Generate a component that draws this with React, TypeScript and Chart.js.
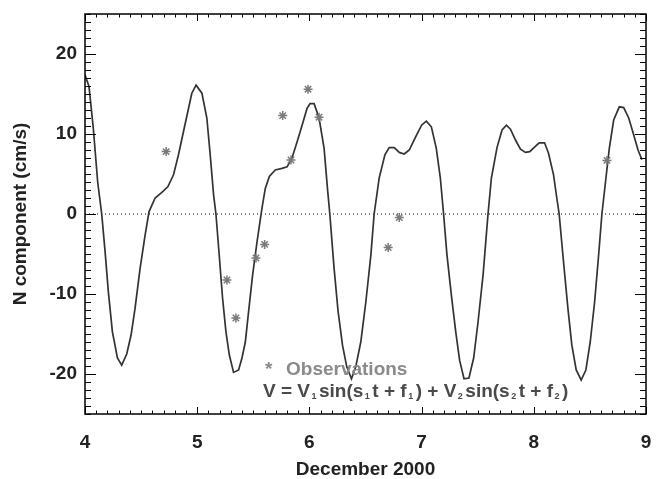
import React, { useEffect, useRef } from 'react';
import { Chart, registerables } from 'chart.js';

Chart.register(...registerables);

// Model curve V = V1 sin(s1 t + f1) + V2 sin(s2 t + f2)
const curveT = [
  4.000, 4.036, 4.074, 4.113, 4.149, 4.179, 4.208, 4.244, 4.289, 4.327, 4.372, 4.411, 4.446, 4.491, 4.536, 4.571,
  4.625, 4.685, 4.738, 4.789, 4.833, 4.887, 4.952, 4.990, 5.042, 5.086, 5.116, 5.146, 5.167, 5.196, 5.226, 5.256,
  5.286, 5.324, 5.369, 5.399, 5.429, 5.458, 5.494, 5.533, 5.577, 5.607, 5.643, 5.696, 5.756, 5.801, 5.845, 5.890,
  5.935, 5.979, 6.006, 6.042, 6.086, 6.131, 6.161, 6.182, 6.220, 6.256, 6.295, 6.333, 6.375, 6.413, 6.458, 6.503,
  6.548, 6.577, 6.622, 6.673, 6.711, 6.756, 6.801, 6.845, 6.890, 6.949, 7.000, 7.042, 7.087, 7.131, 7.167, 7.196,
  7.226, 7.265, 7.304, 7.339, 7.378, 7.422, 7.464, 7.503, 7.548, 7.592, 7.622, 7.672, 7.717, 7.756, 7.792, 7.837,
  7.881, 7.926, 7.964, 8.009, 8.048, 8.096, 8.131, 8.176, 8.205, 8.226, 8.265, 8.304, 8.339, 8.378, 8.422, 8.464,
  8.503, 8.542, 8.578, 8.607, 8.643, 8.673, 8.712, 8.762, 8.801, 8.846, 8.890, 8.929, 8.964,
];
const curveV = [
  17.4, 15.9, 10.7, 4.0, 0.0, -4.7, -9.7, -14.7, -18.0, -18.9, -17.5, -15.1, -11.8, -6.8, -2.6, 0.3,
  2.0, 2.7, 3.4, 4.9, 7.4, 10.9, 15.1, 16.1, 15.1, 12.0, 7.4, 2.4, 0.0, -5.1, -10.5, -14.7,
  -17.6, -19.8, -19.5, -18.0, -16.0, -12.2, -7.6, -3.5, 0.7, 3.2, 4.7, 5.5, 5.7, 5.9, 7.0, 9.0,
  11.1, 13.2, 13.8, 13.8, 12.0, 8.2, 3.2, 0.0, -6.8, -12.2, -16.4, -19.1, -20.6, -19.1, -16.0, -11.0,
  -5.1, 0.0, 4.5, 7.4, 8.3, 8.3, 7.7, 7.5, 8.0, 9.7, 11.1, 11.6, 10.9, 8.2, 4.5, 0.0,
  -5.1, -10.1, -14.7, -18.3, -20.6, -20.5, -18.0, -13.5, -7.6, 0.0, 4.5, 8.3, 10.5, 11.1, 10.6, 9.25,
  8.1, 7.7, 7.8, 8.4, 8.9, 8.9, 7.6, 4.9, 2.0, 0.0, -6.0, -11.8, -16.4, -19.5, -20.75, -19.5,
  -16.0, -11.0, -5.1, 0.0, 4.5, 8.2, 11.75, 13.4, 13.3, 12.0, 9.9, 8.0, 6.8,
];

// Observations
const obsT = [4.723, 5.265, 5.345, 5.524, 5.601, 5.762, 5.836, 5.988, 6.086, 6.702, 6.801, 8.652];
const obsV = [7.8, -8.25, -13.0, -5.5, -3.8, 12.3, 6.75, 15.6, 12.1, -4.2, -0.45, 6.7];

// Zero reference line
const zeroT = [4, 9];
const zeroV = [0, 0];

// Axes
const xMin = 4;
const xMax = 9;
const yMin = -25;
const yMax = 25;
const xTicks = [4, 5, 6, 7, 8, 9];
const yTicks = [-20, -10, 0, 10, 20];
const xMinorStep = 0.1;
const yMinorStep = 1;

const xTitle = 'December 2000';
const yTitle = 'N component (cm/s)';
const legendObs = 'Observations';

const FONT = '"Liberation Sans", Arial, Helvetica, sans-serif';

const idlAxesPlugin = {
  id: 'idlAxes',
  afterDraw(chart: any) {
    const { ctx, chartArea: a, scales } = chart;
    const x = scales.x;
    const y = scales.y;
    ctx.save();
    ctx.strokeStyle = '#000';
    ctx.lineWidth = 1;
    ctx.beginPath();
    const nx = Math.round((xMax - xMin) / xMinorStep);
    for (let i = 0; i <= nx; i++) {
      const v = xMin + i * xMinorStep;
      const px = Math.round(x.getPixelForValue(v)) + 0.5;
      const major = i % 10 === 0;
      const len = major ? 7 : 3.5;
      ctx.moveTo(px, a.bottom);
      ctx.lineTo(px, a.bottom - len);
      ctx.moveTo(px, a.top);
      ctx.lineTo(px, a.top + len);
    }
    const ny = Math.round((yMax - yMin) / yMinorStep);
    for (let i = 0; i <= ny; i++) {
      const v = yMin + i * yMinorStep;
      const py = Math.round(y.getPixelForValue(v)) + 0.5;
      const major = Math.abs(v % 10) < 1e-6;
      const len = major ? 11 : 6;
      ctx.moveTo(a.left, py);
      ctx.lineTo(a.left + len, py);
      ctx.moveTo(a.right, py);
      ctx.lineTo(a.right - len, py);
    }
    ctx.stroke();
    ctx.lineWidth = 1.5;
    ctx.strokeRect(a.left, a.top, a.right - a.left, a.bottom - a.top);
    ctx.restore();
  },
};

const legendPlugin = {
  id: 'formulaLegend',
  afterDraw(chart: any) {
    const { ctx, chartArea: a } = chart;
    const x0 = a.left + 179;
    const y1 = a.top + 361;
    const y2 = a.top + 383;
    ctx.save();
    ctx.textBaseline = 'alphabetic';
    ctx.textAlign = 'left';
    ctx.font = `bold 19px ${FONT}`;
    ctx.fillStyle = '#8a8a8a';
    ctx.fillText('*', x0 + 1, y1);
    ctx.fillText(legendObs, x0 + 22, y1);

    ctx.fillStyle = '#4a4a4a';
    const parts: [string, boolean][] = [
      ['V = V', false], ['1', true], ['sin(s', false], ['1', true], ['t + f', false], ['1', true],
      [') + V', false], ['2', true], ['sin(s', false], ['2', true], ['t + f', false], ['2', true], [')', false],
    ];
    let cx = x0 - 1;
    for (const [txt, sub] of parts) {
      if (sub) {
        ctx.font = `bold 9px ${FONT}`;
        cx += 1.5;
        ctx.fillText(txt, cx, y2 + 2);
        cx += ctx.measureText(txt).width + 2.5;
      } else {
        ctx.font = `bold 19px ${FONT}`;
        ctx.fillText(txt, cx, y2);
        cx += ctx.measureText(txt).width;
      }
    }
    ctx.restore();
  },
};

function zeroPadding(s: any) {
  s.paddingLeft = 0;
  s.paddingRight = 0;
  s.paddingTop = 0;
  s.paddingBottom = 0;
}

export default function App() {
  const ref = useRef<HTMLCanvasElement | null>(null);

  useEffect(() => {
    if (!ref.current) return;
    const tickFont = { family: FONT, size: 19, weight: 'bold' as const };
    const chart = new Chart(ref.current, {
      type: 'scatter',
      data: {
        datasets: [
          {
            label: 'zero',
            data: zeroT.map((t, i) => ({ x: t, y: zeroV[i] })),
            showLine: true,
            borderColor: '#000',
            borderWidth: 1,
            borderDash: [1, 3],
            pointRadius: 0,
            order: 3,
          },
          {
            label: 'model',
            data: curveT.map((t, i) => ({ x: t, y: curveV[i] })),
            showLine: true,
            borderColor: '#333333',
            borderWidth: 1.7,
            pointRadius: 0,
            tension: 0,
            order: 2,
          },
          {
            label: 'Observations',
            data: obsT.map((t, i) => ({ x: t, y: obsV[i] })),
            showLine: false,
            pointStyle: 'star',
            pointRadius: 4.5,
            borderColor: '#7a7a7a',
            backgroundColor: 'rgba(0,0,0,0)',
            borderWidth: 1.5,
            order: 1,
          },
        ],
      },
      options: {
        responsive: false,
        animation: false,
        events: [],
        layout: { padding: { left: 0, top: 14, right: 14, bottom: 0 } },
        plugins: { legend: { display: false }, tooltip: { enabled: false } },
        scales: {
          x: {
            type: 'linear',
            min: xMin,
            max: xMax,
            afterBuildTicks: (s: any) => {
              s.ticks = xTicks.map((v) => ({ value: v }));
            },
            afterFit: (s: any) => {
              s.height = 65;
              zeroPadding(s);
            },
            grid: { display: false, drawTicks: false },
            border: { display: false },
            ticks: { font: tickFont, color: '#222', padding: 17, maxRotation: 0, autoSkip: false },
            title: { display: true, text: xTitle, font: tickFont, color: '#222', padding: { top: 0, bottom: -2 } },
          },
          y: {
            type: 'linear',
            min: yMin,
            max: yMax,
            afterBuildTicks: (s: any) => {
              s.ticks = yTicks.map((v) => ({ value: v }));
            },
            afterFit: (s: any) => {
              s.width = 85;
              zeroPadding(s);
            },
            grid: { display: false, drawTicks: false },
            border: { display: false },
            ticks: { font: tickFont, color: '#222', padding: 8, autoSkip: false },
            title: { display: true, text: yTitle, font: tickFont, color: '#222', padding: { top: 9, bottom: 0 } },
          },
        },
      },
      plugins: [idlAxesPlugin, legendPlugin],
    });
    return () => chart.destroy();
  }, []);

  return (
    <div style={{ position: 'absolute', left: 0, top: 0, width: 660, height: 479, background: '#fff' }}>
      <canvas ref={ref} width={660} height={479} style={{ display: 'block', width: 660, height: 479 }} />
    </div>
  );
}
